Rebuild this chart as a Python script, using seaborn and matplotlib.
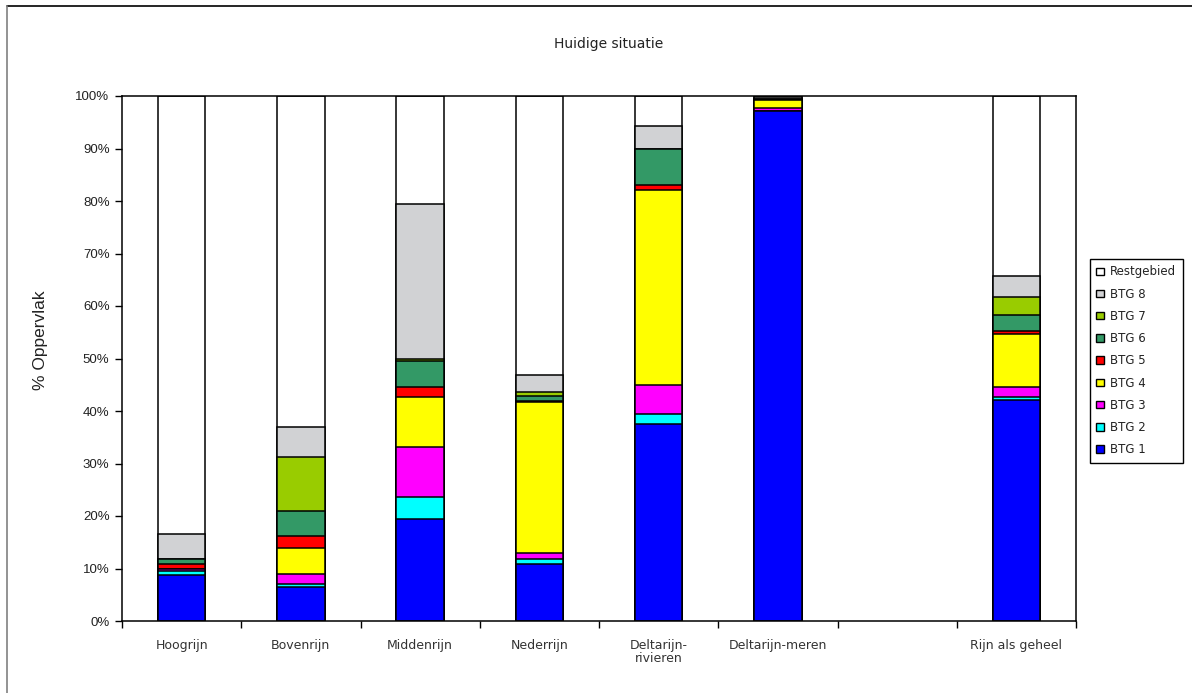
import numpy as np
import pandas as pd
import matplotlib
matplotlib.use("Agg")
import matplotlib.pyplot as plt
import seaborn as sns
from matplotlib.patches import Patch
from matplotlib.lines import Line2D
from matplotlib.ticker import FixedLocator

# ---- data ----
categories = ["Hoogrijn", "Bovenrijn", "Middenrijn", "Nederrijn",
              "Deltarijn-rivieren", "Deltarijn-meren", "(leeg)", "Rijn als geheel"]
tick_labels = ["Hoogrijn", "Bovenrijn", "Middenrijn", "Nederrijn",
               "Deltarijn-\nrivieren", "Deltarijn-meren", "", "Rijn als geheel"]
series_names = ["BTG 1", "BTG 2", "BTG 3", "BTG 4", "BTG 5", "BTG 6", "BTG 7", "BTG 8", "Restgebied"]
btg1 = [8.8, 6.4, 19.5, 10.8, 37.5, 97.1, np.nan, 42.1]
btg2 = [0.8, 0.7, 4.2, 1.1, 2.0, 0.1, np.nan, 0.6]
btg3 = [0.3, 1.8, 9.4, 1.0, 5.4, 0.5, np.nan, 1.8]
btg4 = [0.1, 5.1, 9.5, 28.9, 37.2, 1.5, np.nan, 10.2]
btg5 = [0.8, 2.1, 1.9, 0.1, 0.9, 0.0, np.nan, 0.5]
btg6 = [1.1, 4.8, 5.0, 0.9, 6.9, 0.3, np.nan, 3.1]
btg7 = [0.0, 10.4, 0.5, 0.9, 0.0, 0.0, np.nan, 3.5]
btg8 = [4.6, 5.7, 29.5, 3.1, 4.4, 0.3, np.nan, 4.0]
restgebied = [83.5, 63.0, 20.5, 53.2, 5.7, 0.2, np.nan, 34.2]

colors = ["#0000FF", "#00FFFF", "#FF00FF", "#FFFF00", "#FF0000",
          "#339966", "#99CC00", "#D1D2D4", "#FFFFFF"]

series = [btg1, btg2, btg3, btg4, btg5, btg6, btg7, btg8, restgebied]
df = pd.DataFrame({name: vals for name, vals in zip(series_names, series)})
df["cat"] = categories
cum = df[series_names].cumsum(axis=1)
cum["cat"] = categories

# ---- figure ----
sns.set_theme(style="white")
plt.rcParams["font.family"] = ["DejaVu Sans"]
fig = plt.figure(figsize=(11.92, 6.93), dpi=100)
ax = fig.add_axes([122/1192, 1-621/693, (1076-122)/1192, (621-96)/693])

# draw stacked bars from top (cumulative) down
for name, col in reversed(list(zip(series_names, colors))):
    sns.barplot(data=cum, x="cat", y=name, order=categories, color=col,
                saturation=1, width=0.4, edgecolor="black", linewidth=1.1,
                ax=ax, errorbar=None)

ax.set_xlim(-0.5, len(categories) - 0.5)
ax.set_ylim(0, 100)
ax.set_xlabel("")
ax.set_ylabel("")

# x ticks: labels at centres, tick marks at boundaries
ax.set_xticks(range(len(categories)))
ax.set_xticklabels(tick_labels, fontsize=9, color="#333333", linespacing=1.0)
ax.tick_params(axis="x", which="major", length=0, pad=13)
ax.xaxis.set_minor_locator(FixedLocator(np.arange(-0.5, len(categories), 1.0)))
ax.tick_params(axis="x", which="minor", length=5, width=1, color="black", direction="out", bottom=True)

ax.set_yticks(np.arange(0, 101, 10))
ax.set_yticklabels([f"{v}%" for v in range(0, 101, 10)], fontsize=9.5,
                   family="Liberation Sans", color="#222222")
ax.tick_params(axis="y", which="major", length=5, width=1, color="black",
               direction="out", left=True, pad=4)

for s in ax.spines.values():
    s.set_visible(True)
    s.set_color("black")
    s.set_linewidth(1.1)

# title and y-label
fig.text(609/1192, 1-44/693, "Huidige situatie", ha="center", va="center",
         fontsize=10, color="#222222")
fig.text(40/1192, 1-340/693, "% Oppervlak", ha="center", va="center",
         rotation=90, fontsize=12.5, family="Liberation Sans", color="#222222")

# legend
handles = [Patch(facecolor=c, edgecolor="black", linewidth=1.0, label=n)
           for n, c in zip(series_names, colors)][::-1]
leg = fig.legend(handles=handles, loc="upper left",
                 bbox_to_anchor=(1090/1192, 1-259/693), fontsize=8.5,
                 frameon=True, fancybox=False, framealpha=1, edgecolor="black",
                 handlelength=0.6, handleheight=0.6, handletextpad=0.55,
                 labelspacing=0.78, borderpad=0.55, borderaxespad=0)
leg.get_frame().set_linewidth(1.0)
for t in leg.get_texts():
    t.set_color("#222222")

# outer chart frame
fig.add_artist(Line2D([7/1192, 1.0], [1-6/693, 1-6/693], transform=fig.transFigure,
                      color="black", linewidth=1.2))
fig.add_artist(Line2D([7.5/1192, 7.5/1192], [0.0, 1-6/693], transform=fig.transFigure,
                      color="#808080", linewidth=1.2))

fig.savefig("out.png", dpi=100, facecolor="white")
